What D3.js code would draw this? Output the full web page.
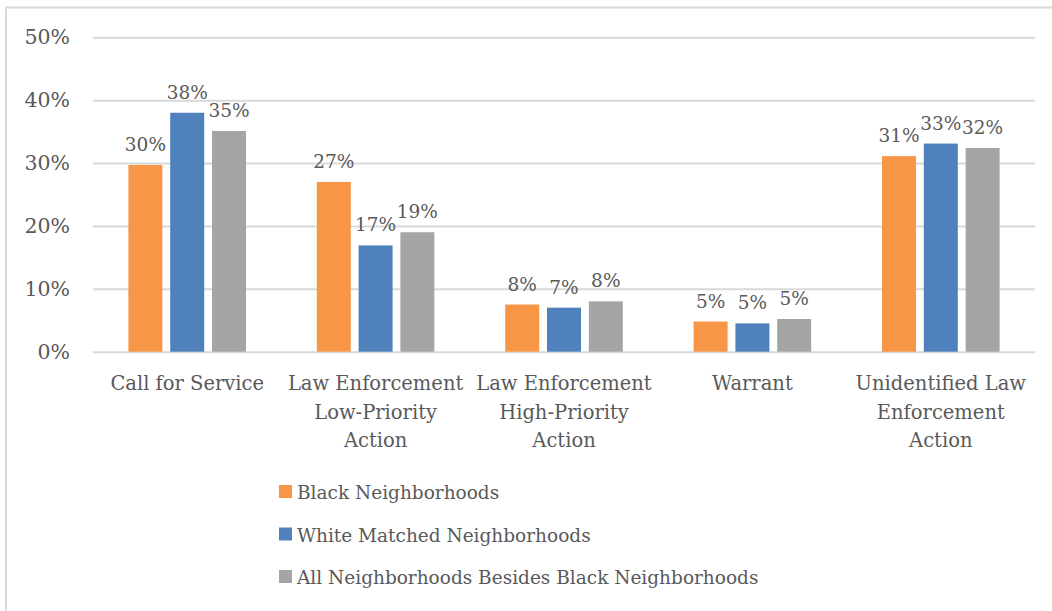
<!DOCTYPE html>
<html>
<head>
<meta charset="utf-8">
<script src="https://cdn.jsdelivr.net/npm/d3@7"></script>
<style>
  html, body { margin: 0; padding: 0; background: #fff; }
  svg { display: block; }
  text { font-family: "DejaVu Serif", "Liberation Serif", serif; fill: #595959; }
</style>
</head>
<body>
<svg id="chart" width="1052" height="611"></svg>
<script>
// Categories (multi-line labels) and series values, in percent
const categories = [
  ["Call for Service"],
  ["Law Enforcement", "Low-Priority", "Action"],
  ["Law Enforcement", "High-Priority", "Action"],
  ["Warrant"],
  ["Unidentified Law", "Enforcement", "Action"]
];
const seriesNames = [
  "Black Neighborhoods",
  "White Matched Neighborhoods",
  "All Neighborhoods Besides Black Neighborhoods"
];
const blackValues = [29.7, 27.0, 7.5, 4.8, 31.1];
const whiteValues = [38.0, 16.9, 7.0, 4.5, 33.1];
const otherValues = [35.1, 19.0, 8.0, 5.2, 32.4];
const seriesColors = ["#F79646", "#4F81BD", "#A5A5A5"];
const yTicks = [0, 10, 20, 30, 40, 50];

const seriesValues = [blackValues, whiteValues, otherValues];
const catKeys = categories.map(c => c.join(" "));

const svg = d3.select("#chart");
const plot = { left: 93, right: 1035, top: 37.3, bottom: 351.7 };
const FONT = "DejaVu Serif, Liberation Serif, serif";

// Chart frame (top and left edges)
svg.append("line").attr("x1", 5).attr("x2", 1052).attr("y1", 7.5).attr("y2", 7.5)
  .attr("stroke", "#d9d9d9").attr("stroke-width", 2);
svg.append("line").attr("x1", 6).attr("x2", 6).attr("y1", 7).attr("y2", 611)
  .attr("stroke", "#d9d9d9").attr("stroke-width", 2);

const y = d3.scaleLinear().domain([0, 50]).range([plot.bottom, plot.top]);
const x0 = d3.scaleBand().domain(catKeys).range([plot.left, plot.right]).padding(0);
const groupWidth = 117.6;
const x1 = d3.scaleBand().domain(seriesNames).range([0, groupWidth]).paddingInner(0.187).paddingOuter(0);

// Gridlines and y labels
const yAxis = d3.axisLeft(y).tickValues(yTicks).tickFormat(d => d + "%")
  .tickSize(-(plot.right - plot.left)).tickPadding(23);
const gy = svg.append("g").attr("transform", `translate(${plot.left},0)`).call(yAxis);
gy.select(".domain").remove();
gy.selectAll(".tick line").attr("stroke", "#d9d9d9").attr("stroke-width", 2);
gy.selectAll(".tick text").attr("font-size", 20.5).attr("fill", "#595959")
  .attr("font-family", FONT);

// Bars
const groups = svg.append("g").selectAll("g")
  .data(catKeys)
  .join("g")
  .attr("transform", d => `translate(${x0(d) + x0.bandwidth() / 2 - groupWidth / 2},0)`);

groups.each(function(cat, ci) {
  const g = d3.select(this);
  seriesNames.forEach((s, si) => {
    const v = seriesValues[si][ci];
    g.append("rect")
      .attr("x", x1(s))
      .attr("y", y(v))
      .attr("width", x1.bandwidth())
      .attr("height", y(0) - y(v))
      .attr("fill", seriesColors[si]);
    g.append("text")
      .attr("x", x1(s) + x1.bandwidth() / 2)
      .attr("y", y(v) - 14)
      .attr("text-anchor", "middle")
      .attr("font-size", 18.5)
      .text(Math.round(v) + "%");
  });
});

// Category labels
const xl = svg.append("g");
categories.forEach((lines, i) => {
  const cx = x0(catKeys[i]) + x0.bandwidth() / 2;
  const t = xl.append("text").attr("text-anchor", "middle").attr("font-size", 19.5);
  lines.forEach((ln, j) => {
    t.append("tspan").attr("x", cx).attr("y", 390 + j * 28.5).text(ln);
  });
});

// Legend
const legend = svg.append("g");
seriesNames.forEach((s, i) => {
  const ly = 492 + i * 42.5;
  legend.append("rect").attr("x", 279).attr("y", ly - 7).attr("width", 13).attr("height", 13)
    .attr("fill", seriesColors[i]);
  legend.append("text").attr("x", 297).attr("y", ly + 7).attr("font-size", 18.5).text(s);
});
</script>
</body>
</html>
